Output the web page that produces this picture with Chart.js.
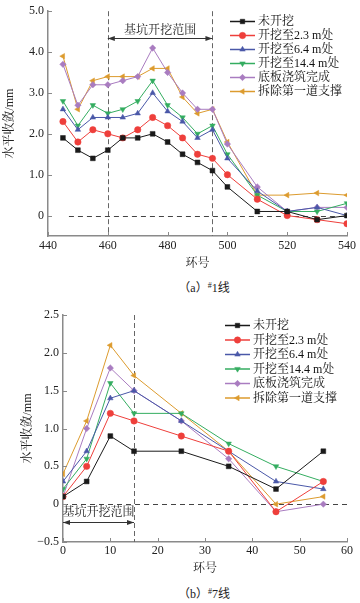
<!DOCTYPE html>
<html>
<head>
<meta charset="utf-8">
<script src="https://cdn.jsdelivr.net/npm/chart.js@4.4.1/dist/chart.umd.min.js"></script>
<style>
  body { margin: 0; background: #fff; overflow: hidden; }
  #wrap { position: relative; width: 360px; height: 603px; }
  canvas { position: absolute; left: 0; }
  .cap {
    position: absolute; left: 144px; width: 120px; text-align: center;
    font: 12px 'Liberation Serif', 'Noto Sans CJK SC', serif; color: #222; line-height: 16px;
  }
  .cap sup { font-size: 8px; vertical-align: 4px; }
</style>
</head>
<body>
<div id="wrap">
  <canvas id="chartA" width="360" height="275" style="top:0"></canvas>
  <div class="cap" style="top:278px">（a）<sup>#</sup>1线</div>
  <canvas id="chartB" width="360" height="280" style="top:300px"></canvas>
  <div class="cap" style="top:584px">（b）<sup>#</sup>7线</div>
</div>
<script>
// series shared by both panels
const seriesNames = ["未开挖", "开挖至2.3 m处", "开挖至6.4 m处", "开挖至14.4 m处", "底板浇筑完成", "拆除第一道支撑"];
const seriesColors = ["#1a1a1a", "#ee3f3b", "#4a58a8", "#34ad60", "#a97cc0", "#dc9b2e"];
const pointStyles = ["rect", "circle", "triangle", "triangle", "rectRot", "triangle"];
const pointRotations = [0, 0, 0, 180, 0, -90];

// (a) #1 line
const ringsA = [445, 450, 455, 460, 465, 470, 475, 480, 485, 490, 495, 500, 510, 520, 530, 540];
const a_unexcavated = [1.9, 1.6, 1.4, 1.6, 1.9, 1.9, 2.0, 1.8, 1.5, 1.3, 1.1, 0.7, 0.1, 0.1, -0.1, 0.0];
const a_dig23 = [2.3, 1.8, 2.1, 2.0, 1.9, 2.1, 2.4, 2.2, 1.9, 1.5, 1.4, 1.0, 0.4, 0.0, -0.1, -0.2];
const a_dig64 = [2.6, 2.1, 2.4, 2.4, 2.4, 2.5, 3.0, 2.55, 2.3, 1.9, 2.1, 1.4, 0.6, 0.1, 0.2, 0.0];
const a_dig144 = [2.8, 2.2, 2.7, 2.5, 2.6, 2.8, 3.3, 2.7, 2.4, 2.0, 2.2, 1.5, 0.5, 0.1, 0.1, 0.3];
const a_slab = [3.7, 2.7, 3.2, 3.2, 3.3, 3.4, 4.1, 3.5, 3.0, 2.6, 2.6, 1.75, 0.7, 0.1, 0.2, 0.2];
const a_strut = [3.9, 2.6, 3.3, 3.4, 3.4, 3.4, 3.6, 3.6, 2.9, 2.5, 2.6, 1.8, 0.5, 0.5, 0.55, 0.5];
const xTicksA = [440, 460, 480, 500, 520, 540];
const yTicksA = [0, 1, 2, 3, 4, 5];

// (b) #7 line
const ringsB = [0, 5, 10, 15, 25, 35, 45, 55];
const b_unexcavated = [0.1, 0.3, 0.9, 0.7, 0.7, 0.5, 0.2, 0.7];
const b_dig23 = [0.1, 0.5, 1.2, 1.1, 0.9, 0.7, -0.1, 0.3];
const b_dig64 = [0.3, 0.7, 1.4, 1.5, 1.1, 0.7, 0.3, 0.2];
const b_dig144 = [0.2, 0.6, 1.6, 1.2, 1.2, 0.8, 0.5, 0.3];
const b_slab = [0.1, 1.0, 1.8, 1.5, 1.1, 0.6, -0.1, 0.0];
const b_strut = [0.4, 1.1, 2.1, 1.7, 1.2, 0.7, 0.0, 0.1];
const xTicksB = [0, 10, 20, 30, 40, 50, 60];
const yTicksB = [-0.5, 0, 0.5, 1.0, 1.5, 2.0, 2.5];

const rangeLabel = "基坑开挖范围";

const SERIF = "'Liberation Serif', 'Times New Roman', serif";
const CJK = "'Liberation Serif', 'Noto Serif CJK SC', 'Noto Sans CJK SC', sans-serif";
const AXIS = "#8a8a8a";

function makeDatasets(xs, rows) {
  return rows.map((vals, i) => ({
    label: seriesNames[i],
    data: xs.map((x, j) => ({ x: x, y: vals[j] })),
    borderColor: seriesColors[i],
    backgroundColor: seriesColors[i],
    borderWidth: 1,
    pointStyle: pointStyles[i],
    rotation: pointRotations[i],
    pointRadius: i == 0 ? 3.4 : 3.2,
    pointBorderWidth: 0.5,
    tension: 0
  }));
}

// dashed guides, zero line, range arrow
const guides = {
  id: "guides",
  beforeDatasetsDraw(chart, args, opts) {
    const { ctx, chartArea } = chart;
    const x = chart.scales.x, y = chart.scales.y;
    ctx.save();
    ctx.lineWidth = 1;
    ctx.strokeStyle = "#666";
    ctx.setLineDash([5, 3]);
    opts.vLines.forEach((v) => {
      const px = Math.round(x.getPixelForValue(v)) + 0.5;
      ctx.beginPath();
      ctx.moveTo(px, chartArea.top);
      ctx.lineTo(px, chartArea.bottom);
      ctx.stroke();
    });
    ctx.strokeStyle = "#444";
    ctx.setLineDash([5, 4]);
    const zy = Math.round(y.getPixelForValue(0)) + 0.5;
    ctx.beginPath();
    ctx.moveTo(x.getPixelForValue(opts.zeroX[0]), zy);
    ctx.lineTo(x.getPixelForValue(opts.zeroX[1]), zy);
    ctx.stroke();

    // arrow
    ctx.setLineDash([]);
    ctx.strokeStyle = "#333";
    ctx.fillStyle = "#333";
    const x1 = x.getPixelForValue(opts.range[0]);
    const x2 = x.getPixelForValue(opts.range[1]);
    const ay = Math.round(y.getPixelForValue(opts.arrowY)) + 0.5;
    ctx.beginPath();
    ctx.moveTo(x1, ay);
    ctx.lineTo(x2, ay);
    ctx.stroke();
    [[x1, 1], [x2, -1]].forEach(([px, d]) => {
      ctx.beginPath();
      ctx.moveTo(px, ay);
      ctx.lineTo(px + 7 * d, ay - 2.5);
      ctx.lineTo(px + 7 * d, ay + 2.5);
      ctx.closePath();
      ctx.fill();
    });
    ctx.font = "12px " + CJK;
    ctx.fillStyle = "#222";
    ctx.textAlign = "center";
    ctx.textBaseline = "middle";
    ctx.fillText(rangeLabel, (x1 + x2) / 2, y.getPixelForValue(opts.labelY));
    ctx.restore();
  },
  afterDraw(chart) {
    // inward tick marks
    const { ctx, chartArea } = chart;
    const x = chart.scales.x, y = chart.scales.y;
    ctx.save();
    ctx.strokeStyle = AXIS;
    ctx.lineWidth = 1;
    x.ticks.forEach((t) => {
      const px = Math.round(x.getPixelForValue(t.value)) + 0.5;
      ctx.beginPath();
      ctx.moveTo(px, chartArea.bottom);
      ctx.lineTo(px, chartArea.bottom - 4);
      ctx.stroke();
    });
    y.ticks.forEach((t) => {
      const py = Math.round(y.getPixelForValue(t.value)) + 0.5;
      ctx.beginPath();
      ctx.moveTo(chartArea.left, py);
      ctx.lineTo(chartArea.left + 4, py);
      ctx.stroke();
    });
    ctx.restore();
  }
};

// legend: line sample + marker + text
const lineLegend = {
  id: "lineLegend",
  afterDraw(chart, args, opts) {
    const ctx = chart.ctx;
    ctx.save();
    ctx.font = "12px " + CJK;
    ctx.textBaseline = "middle";
    ctx.textAlign = "left";
    chart.data.datasets.forEach((ds, i) => {
      const yy = opts.top + i * opts.step;
      ctx.strokeStyle = ds.borderColor;
      ctx.fillStyle = ds.borderColor;
      ctx.lineWidth = 1.5;
      ctx.beginPath();
      ctx.moveTo(opts.left, yy);
      ctx.lineTo(opts.left + opts.len, yy);
      ctx.stroke();
      ctx.lineWidth = 0.5;
      Chart.helpers.drawPoint(ctx, {
        pointStyle: ds.pointStyle, rotation: ds.rotation,
        radius: 3.2, borderWidth: 0.5
      }, opts.left + opts.len / 2, yy);
      ctx.fillStyle = "#111";
      ctx.fillText(ds.label, opts.left + opts.len + 3, yy + 0.5);
    });
    ctx.restore();
  }
};

function fmt(v) {
  if (v === 0) return "0";
  const s = Math.abs(v).toFixed(1);
  return v < 0 ? "\u2212" + s : s;
}

function makeChart(id, cfg) {
  return new Chart(document.getElementById(id), {
    type: "line",
    data: { datasets: makeDatasets(cfg.xs, cfg.rows) },
    options: {
      responsive: false,
      animation: false,
      devicePixelRatio: 1,
      layout: { padding: cfg.padding },
      plugins: {
        legend: { display: false },
        tooltip: { enabled: false },
        guides: cfg.guides,
        lineLegend: cfg.legend
      },
      scales: {
        x: {
          type: "linear",
          min: cfg.xTicks[0],
          max: cfg.xTicks[cfg.xTicks.length - 1],
          afterBuildTicks: (s) => { s.ticks = cfg.xTicks.map((v) => ({ value: v })); },
          afterFit: (s) => { s.height = cfg.xAxisH; },
          grid: { drawOnChartArea: false, drawTicks: false },
          border: { color: AXIS, width: 1.5 },
          ticks: {
            autoSkip: false, maxRotation: 0, padding: cfg.xPad,
            color: "#222", font: { family: SERIF, size: 12 },
            callback: (v) => String(v)
          },
          title: {
            display: true, text: "环号", color: "#222",
            font: { family: CJK, size: 12 }, padding: { top: 0, bottom: 4 }
          }
        },
        y: {
          min: cfg.yMin,
          max: cfg.yTicks[cfg.yTicks.length - 1],
          afterBuildTicks: (s) => { s.ticks = cfg.yTicks.map((v) => ({ value: v })); },
          afterFit: (s) => { s.width = cfg.yAxisW; },
          grid: { drawOnChartArea: false, drawTicks: false },
          border: { color: AXIS, width: 1.5 },
          ticks: {
            autoSkip: false, padding: 4,
            color: "#222", font: { family: SERIF, size: 12 },
            callback: (v) => fmt(v)
          },
          title: {
            display: true, text: "水平收敛/mm", color: "#222",
            font: { family: CJK, size: 12 }, padding: { top: cfg.yTitlePad, bottom: 0 }
          }
        }
      }
    },
    plugins: [guides, lineLegend]
  });
}

makeChart("chartA", {
  xs: ringsA,
  rows: [a_unexcavated, a_dig23, a_dig64, a_dig144, a_slab, a_strut],
  xTicks: xTicksA, yTicks: yTicksA, yMin: -0.5,
  padding: { left: 0, right: 13, top: 10, bottom: 0 },
  xAxisH: 39, yAxisW: 48, xPad: 3, yTitlePad: 3,
  guides: { vLines: [460, 495], zeroX: [447, 540], range: [460, 495], arrowY: 4.34, labelY: 4.52 },
  legend: { left: 230, top: 21.5, step: 14, len: 25 }
});

makeChart("chartB", {
  xs: ringsB,
  rows: [b_unexcavated, b_dig23, b_dig64, b_dig144, b_slab, b_strut],
  xTicks: xTicksB, yTicks: yTicksB, yMin: -0.5,
  padding: { left: 0, right: 13, top: 15, bottom: 0 },
  xAxisH: 38, yAxisW: 63, xPad: 1.5, yTitlePad: 21,
  guides: { vLines: [15], zeroX: [0, 60], range: [0, 15], arrowY: -0.24, labelY: -0.11 },
  legend: { left: 225, top: 25.5, step: 14.5, len: 25 }
});
</script>
</body>
</html>
